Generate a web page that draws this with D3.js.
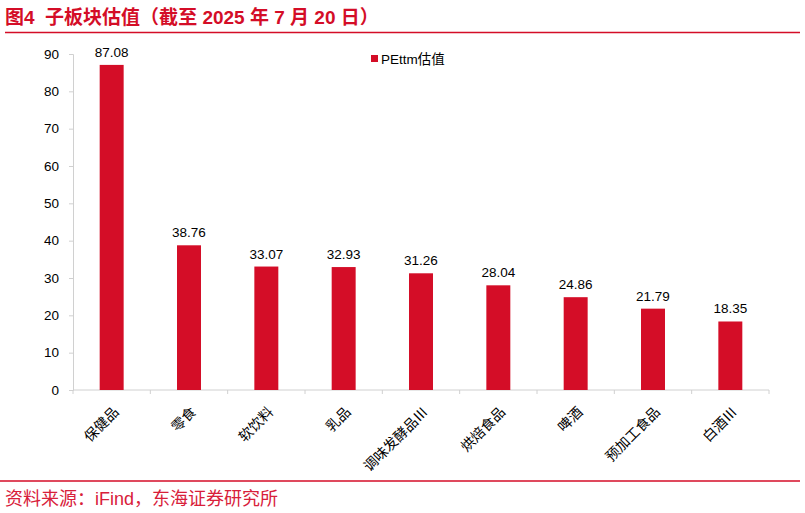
<!DOCTYPE html>
<html>
<head>
<meta charset="utf-8">
<script src="https://cdn.jsdelivr.net/npm/d3@7/dist/d3.min.js"></script>
<style>
  body { margin: 0; background: #fff; }
  text { font-family: "Liberation Sans", Arial, "Noto Sans CJK SC", sans-serif; }
</style>
</head>
<body>
<div id="chart"></div>
<script>
const categories = ["保健品", "零食", "软饮料", "乳品", "调味发酵品Ⅲ", "烘焙食品", "啤酒", "预加工食品", "白酒Ⅲ"];
const peValues   = [87.08, 38.76, 33.07, 32.93, 31.26, 28.04, 24.86, 21.79, 18.35];
const yTicks     = [0, 10, 20, 30, 40, 50, 60, 70, 80, 90];

const RED = "#d40d27";
const W = 805, H = 513;
const MARGIN = { top: 54, right: 36, bottom: 123, left: 73 };

const svg = d3.select("#chart").append("svg")
  .attr("width", W).attr("height", H);

// Title and rules
svg.append("text")
  .attr("x", 5).attr("y", 24)
  .attr("fill", RED)
  .attr("font-size", 19)
  .attr("font-weight", "bold")
  .attr("font-family", "'Liberation Sans', 'Noto Sans CJK SC', sans-serif")
  .style("white-space", "pre")
  .text("图4  子板块估值（截至 2025 年 7 月 20 日）");

svg.append("line")
  .attr("x1", 5).attr("x2", 800).attr("y1", 32.5).attr("y2", 32.5)
  .attr("stroke", RED).attr("stroke-width", 1.5);

svg.append("line")
  .attr("x1", 0).attr("x2", 800).attr("y1", 481).attr("y2", 481)
  .attr("stroke", RED).attr("stroke-width", 1.5);

svg.append("text")
  .attr("x", 5).attr("y", 505)
  .attr("fill", "#d8203a")
  .attr("font-size", 18)
  .attr("font-family", "'Noto Sans CJK SC', sans-serif")
  .text("资料来源：iFind，东海证券研究所");

// Scales
const x = d3.scaleBand()
  .domain(categories)
  .range([MARGIN.left, W - MARGIN.right])
  .paddingInner(0.69).paddingOuter(0.345);

const y = d3.scaleLinear()
  .domain([0, 90])
  .range([H - MARGIN.bottom, MARGIN.top]);

// Y axis
const yAxis = svg.append("g")
  .attr("transform", `translate(${MARGIN.left}, 0)`)
  .call(d3.axisLeft(y).tickValues(yTicks).tickSize(4).tickPadding(10));
yAxis.select(".domain").attr("stroke", "#d0d0d0");
yAxis.selectAll(".tick line").attr("stroke", "#d0d0d0");
yAxis.selectAll(".tick text")
  .attr("font-size", 13.5).attr("fill", "#000")
  .attr("font-family", "'Liberation Sans', Arial, sans-serif");

// X axis (ticks at category boundaries)
const xAxisG = svg.append("g")
  .attr("transform", `translate(0, ${y(0)})`);
xAxisG.append("line")
  .attr("x1", MARGIN.left).attr("x2", W - MARGIN.right)
  .attr("stroke", "#d0d0d0");
const step = x.step();
const boundaries = d3.range(categories.length + 1).map(i => MARGIN.left + i * step);
xAxisG.selectAll(".xtick")
  .data(boundaries)
  .enter().append("line")
  .attr("x1", d => d).attr("x2", d => d)
  .attr("y1", 0).attr("y2", 4)
  .attr("stroke", "#d0d0d0");

xAxisG.selectAll(".xlabel")
  .data(categories)
  .enter().append("text")
  .attr("transform", d => `translate(${x(d) + x.bandwidth() / 2 + 1}, 16) rotate(-45)`)
  .attr("text-anchor", "end")
  .attr("dy", "0.7em")
  .attr("font-size", 14)
  .attr("font-family", "'Noto Sans CJK SC', sans-serif")
  .attr("fill", "#000")
  .text(d => d);

// Bars
svg.selectAll(".bar")
  .data(peValues)
  .enter().append("rect")
  .attr("x", (d, i) => x(categories[i]))
  .attr("y", d => y(d))
  .attr("width", x.bandwidth())
  .attr("height", d => y(0) - y(d))
  .attr("fill", RED);

// Value labels
svg.selectAll(".val")
  .data(peValues)
  .enter().append("text")
  .attr("x", (d, i) => x(categories[i]) + x.bandwidth() / 2)
  .attr("y", d => y(d) - 8)
  .attr("text-anchor", "middle")
  .attr("font-size", 13.5)
  .attr("fill", "#000")
  .text(d => d.toFixed(2));

// Legend
svg.append("rect")
  .attr("x", 371).attr("y", 55).attr("width", 7).attr("height", 7)
  .attr("fill", RED);
svg.append("text")
  .attr("x", 381).attr("y", 63.5)
  .attr("font-size", 13.5)
  .attr("fill", "#000")
  .attr("font-family", "'Liberation Sans', 'Noto Sans CJK SC', sans-serif")
  .text("PEttm估值");
</script>
</body>
</html>
